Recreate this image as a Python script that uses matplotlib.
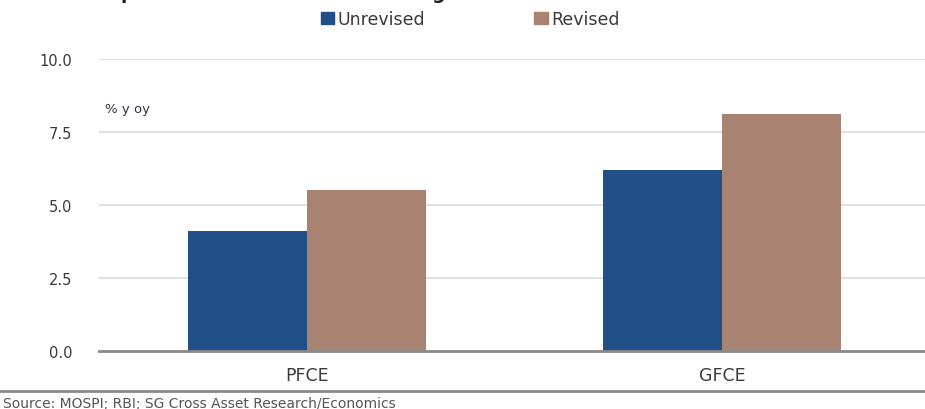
import numpy as np
import matplotlib.pyplot as plt
from matplotlib.patches import Patch
from matplotlib.lines import Line2D

# consumption growth, % y/y
categories = ["PFCE", "GFCE"]
unrevised = [4.1, 6.2]
revised = [5.5, 8.1]
yticks = [0.0, 2.5, 5.0, 7.5, 10.0]

blue = "#215089"
brown = "#a88372"

plt.rcParams['font.family'] = ['DejaVu Sans']

fig = plt.figure(figsize=(9.25, 4.10), dpi=100)
ax = fig.add_axes([99 / 925, 1 - 352 / 410, 831 / 925, 292 / 410])

x = np.arange(len(categories))
w = 0.287
ax.bar(x - w / 2, unrevised, w, color=blue, zorder=3)
ax.bar(x + w / 2, revised, w, color=brown, zorder=3)

ax.set_xlim(-0.5, 1.5)
ax.set_ylim(0, 10)
ax.set_yticks(yticks)
ax.set_yticklabels(["%.1f" % t for t in yticks])
ax.set_xticks(x)
ax.set_xticklabels(categories)
ax.tick_params(axis='y', length=0, pad=19, labelsize=10.5, labelcolor="#3a3a3a")
ax.tick_params(axis='x', length=0, pad=11, labelsize=12.5, labelcolor="#3a3a3a")
ax.yaxis.grid(True, color="#e0e0e0", linewidth=1.5, zorder=0)
for s in ["top", "right", "left"]:
    ax.spines[s].set_visible(False)
ax.spines["bottom"].set_color("#8a8a8a")
ax.spines["bottom"].set_linewidth(2)
ax.spines["bottom"].set_zorder(4)

ax.text(0.007, 0.83, "% y oy", transform=ax.transAxes, fontsize=9.5,
        color="#333344", va="center")

# legend across the top
handles = [Patch(color=blue, label="Unrevised"), Patch(color=brown, label="Revised")]
fig.legend(handles=handles, loc="center left", bbox_to_anchor=(321 / 925, 1 - 20 / 410),
           ncol=2, frameon=False, fontsize=12.5, handlelength=0.75, handleheight=0.75,
           handletextpad=0.2, columnspacing=6.3, labelcolor="#3a3a3a",
           borderpad=0, borderaxespad=0)

# heading, mostly outside the top edge
fig.text(37 / 925, 1 + 1 / 410, "Consumption: unrevised and revised growth",
         fontsize=13.5, fontweight="bold", color="#222222", va="baseline", ha="left")

# source note
fig.add_artist(Line2D([0, 1], [1 - 392 / 410] * 2, color="#8a8a8a", linewidth=2))
fig.text(3 / 925, 1 - 397 / 410, "Source: MOSPI; RBI; SG Cross Asset Research/Economics",
         fontsize=10, color="#555555", va="top", ha="left")

fig.savefig("out.png", dpi=100)
